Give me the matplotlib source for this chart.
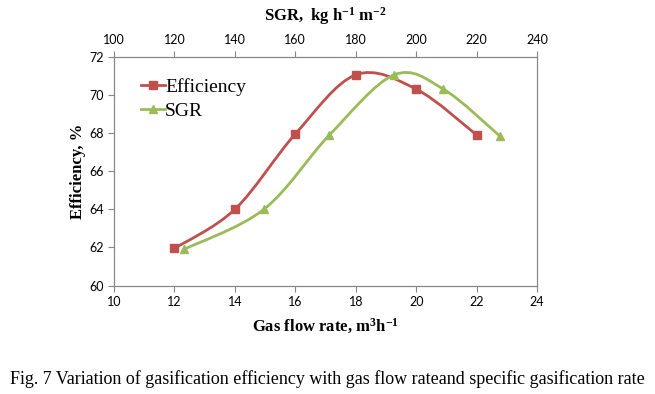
import numpy as np
import matplotlib
matplotlib.use("Agg")
import matplotlib.pyplot as plt
from matplotlib.path import Path
from matplotlib.patches import PathPatch

# data
flow_rate = [12, 14, 16, 18, 20, 22]
efficiency = [61.95, 64.0, 67.95, 71.05, 70.3, 67.9]
sgr = [123.1, 149.6, 171.3, 192.7, 209.0, 227.6]
sgr_eff = [61.9, 64.0, 67.9, 71.05, 70.3, 67.85]

red = "#C0504D"
green = "#9BBB59"
spine_col = "#868686"

plt.rcParams["mathtext.default"] = "regular"


def smooth_path(xs, ys):
    # Excel-like smoothed line: cubic Bezier segments with Catmull-Rom control points
    pts = np.column_stack([xs, ys]).astype(float)
    n = len(pts)
    verts = [pts[0]]
    codes = [Path.MOVETO]
    for i in range(n - 1):
        p0 = pts[i - 1] if i > 0 else pts[i]
        p1 = pts[i]
        p2 = pts[i + 1]
        p3 = pts[i + 2] if i + 2 < n else pts[i + 1]
        c1 = p1 + (p2 - p0) / 6.0
        c2 = p2 - (p3 - p1) / 6.0
        verts += [c1, c2, p2]
        codes += [Path.CURVE4] * 3
    return Path(verts, codes)


fig = plt.figure(figsize=(6.55, 3.94), dpi=100)
ax = fig.add_axes([0.174, 0.275, 0.646, 0.581])

ax.add_patch(PathPatch(smooth_path(flow_rate, efficiency), fill=False,
                       edgecolor=red, linewidth=2.0, zorder=2))
ax.plot(flow_rate, efficiency, linestyle="none", marker="s", markersize=6,
        color=red, zorder=3)
# proxy for legend
ax.plot([], [], color=red, marker="s", markersize=6, linewidth=2.0,
        label="Efficiency")

ax2 = ax.twiny()
ax2.add_patch(PathPatch(smooth_path(sgr, sgr_eff), fill=False,
                        edgecolor=green, linewidth=2.0, zorder=2))
ax2.plot(sgr, sgr_eff, linestyle="none", marker="^", markersize=6,
         color=green, zorder=3)
ax.plot([], [], color=green, marker="^", markersize=6, linewidth=2.0,
        label="SGR")

ax.set_xlim(10, 24)
ax.set_ylim(60, 72)
ax.set_xticks(range(10, 25, 2))
ax.set_yticks(range(60, 73, 2))
ax2.set_xlim(100, 240)
ax2.set_xticks(range(100, 241, 20))

for a in (ax, ax2):
    for s in a.spines.values():
        s.set_color(spine_col)
        s.set_linewidth(0.8)
    a.tick_params(colors=spine_col, labelcolor="black", labelsize=9,
                  length=4, width=0.8)
    for lab in a.get_xticklabels() + a.get_yticklabels():
        lab.set_family("Lato")

ax.set_xlabel("Gas flow rate, m$^3$h$^{-1}$", family="Liberation Serif",
              fontweight="bold", fontsize=12, labelpad=6)
ax.set_ylabel("Efficiency, %", family="Liberation Serif",
              fontweight="bold", fontsize=12, labelpad=2)
ax2.set_xlabel("SGR,  kg h$^{-1}$ m$^{-2}$", family="Liberation Serif",
               fontweight="bold", fontsize=12, labelpad=10)

ax.legend(loc="upper left", frameon=False, handlelength=1.25,
          handletextpad=0.0, borderaxespad=0.0, labelspacing=0.3,
          prop={"family": "Liberation Serif", "size": 14},
          bbox_to_anchor=(0.045, 0.94))

fig.text(0.5, 0.025,
         "Fig. 7 Variation of gasification efficiency with gas flow rateand specific gasification rate",
         ha="center", family="Liberation Serif", fontsize=13)

fig.savefig("out.png", dpi=100)
